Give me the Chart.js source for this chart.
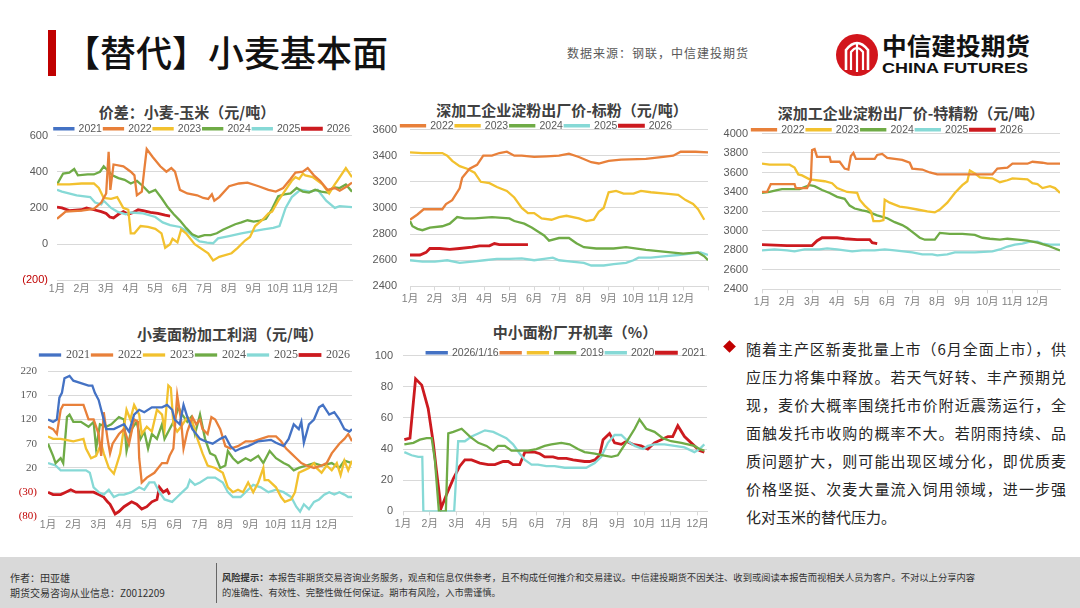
<!DOCTYPE html>
<html lang="zh">
<head>
<meta charset="utf-8">
<title>【替代】小麦基本面</title>
<script src="https://cdn.jsdelivr.net/npm/chart.js@4.4.1/dist/chart.umd.min.js"></script>
<style>
  body { margin:0; width:1080px; height:608px; position:relative; overflow:hidden; background:#fff;
         font-family:"Noto Sans CJK SC","Noto Sans",sans-serif; color:#262626; }
  .abs { position:absolute; white-space:nowrap; }
  .ttl { position:absolute; font-size:15px; line-height:20px; font-weight:700; color:#404040; white-space:nowrap; transform:translateX(-50%); }
  canvas { position:absolute; }
  .para { position:absolute; left:746px; top:335px; width:320px; font-size:15px; color:#262626; }
  .para div { height:28px; line-height:28px; text-align:justify; text-align-last:justify; white-space:nowrap; }
  .para div.last { text-align-last:left; }
  .foot { position:absolute; left:0; top:557px; width:1080px; height:51px; background:#d9d9d9; }
</style>
</head>
<body>

<!-- header -->
<div class="abs" style="left:48px;top:30px;width:8px;height:46px;background:#c00000"></div>
<div class="abs" style="left:64px;top:26px;font-size:36px;line-height:50px;font-weight:500;color:#111">【替代】小麦基本面</div>
<div class="abs" style="left:567px;top:45px;font-size:12px;line-height:16px;color:#595959;letter-spacing:1px">数据来源：钢联，中信建投期货</div>
<svg class="abs" style="left:834px;top:30px" width="200" height="50">
  <circle cx="23" cy="25" r="21" fill="#d2151c"/>
  <path d="M12 40 V20 Q23 6 34 20 V40" fill="none" stroke="#fff" stroke-width="2.6"/>
  <path d="M17 40 V22 Q23 14 29 22 V40" fill="none" stroke="#fff" stroke-width="2.2"/>
  <path d="M23 12 V42" stroke="#fff" stroke-width="2.2"/>
  <text x="48" y="25" font-size="24" font-weight="700" fill="#111" textLength="148" lengthAdjust="spacingAndGlyphs" font-family="Noto Sans CJK SC">中信建投期货</text>
  <text x="48" y="43" font-size="15" font-weight="700" fill="#111" textLength="146" lengthAdjust="spacingAndGlyphs" font-family="Liberation Sans">CHINA FUTURES</text>
</svg>

<!-- chart titles -->
<div class="ttl" style="left:187px;top:102px">价差：小麦-玉米（元/吨）</div>
<div class="ttl" style="left:562px;top:100px">深加工企业淀粉出厂价-标粉（元/吨）</div>
<div class="ttl" style="left:911px;top:103px">深加工企业淀粉出厂价-特精粉（元/吨）</div>
<div class="ttl" style="left:230px;top:324px">小麦面粉加工利润（元/吨）</div>
<div class="ttl" style="left:575px;top:322px">中小面粉厂开机率（%）</div>

<canvas id="c1" width="360" height="184" style="left:0;top:113px"></canvas>
<canvas id="c2" width="350" height="200" style="left:365px;top:107px"></canvas>
<canvas id="c3" width="365" height="199" style="left:715px;top:111px"></canvas>
<canvas id="c4" width="360" height="187" style="left:0;top:347px"></canvas>
<canvas id="c5" width="350" height="199" style="left:365px;top:333px"></canvas>

<!-- commentary -->
<div class="abs" style="left:725px;top:342px;width:9px;height:9px;background:#c00000;transform:rotate(45deg)"></div>
<div class="para">
  <div>随着主产区新麦批量上市（6月全面上市），供</div>
  <div>应压力将集中释放。若天气好转、丰产预期兑</div>
  <div>现，麦价大概率围绕托市价附近震荡运行，全</div>
  <div>面触发托市收购的概率不大。若阴雨持续、品</div>
  <div>质问题扩大，则可能出现区域分化，即优质麦</div>
  <div>价格坚挺、次麦大量流入饲用领域，进一步强</div>
  <div class="last">化对玉米的替代压力。</div>
</div>

<!-- footer -->
<div class="foot"></div>
<div class="abs" style="left:10px;top:570px;font-size:10px;line-height:15px;color:#333">作者：田亚雄<br>期货交易咨询从业信息：Z0012209</div>
<div class="abs" style="left:216px;top:563px;width:1px;height:40px;background:#666"></div>
<div class="abs" style="left:222px;top:570px;font-size:9.3px;line-height:15px;color:#333"><b>风险提示：</b>本报告非期货交易咨询业务服务，观点和信息仅供参考，且不构成任何推介和交易建议。中信建投期货不因关注、收到或阅读本报告而视相关人员为客户。不对以上分享内容<br>的准确性、有效性、完整性做任何保证。期市有风险，入市需谨慎。</div>

<script>
// ---- data (x = month offset from 1月 start, y = value) ----
const months = ['1月','2月','3月','4月','5月','6月','7月','8月','9月','10月','11月','12月'];

// 价差：小麦-玉米
const spread2022 = [[0,140],[0.35,180],[1.0,185],[1.5,195],[1.8,230],[2.0,280],[2.1,510],[2.17,300],[2.3,440],[2.7,430],[3.0,400],[3.15,380],[3.25,270],[3.45,290],[3.55,410],[3.65,525],[3.9,480],[4.2,430],[4.45,400],[4.65,420],[4.8,400],[5.0,300],[5.3,280],[5.7,270],[5.95,255],[6.15,250],[6.3,275],[6.4,240],[6.6,260],[7.0,320],[7.4,335],[7.75,340],[8.2,320],[8.6,300],[8.9,290],[9.2,310],[9.5,360],[9.7,395],[10.0,400],[10.2,420],[10.45,380],[10.7,350],[11.0,300],[11.3,310],[11.5,295],[11.8,320],[12.0,340]];
const spread2023 = [[0,330],[0.5,330],[1.0,335],[1.5,335],[1.7,310],[1.9,255],[2.2,250],[2.45,260],[2.7,200],[2.9,190],[3.0,60],[3.15,60],[3.4,100],[3.7,95],[4.0,85],[4.25,60],[4.4,-20],[4.6,0],[4.7,30],[4.9,10],[5.05,80],[5.25,60],[5.6,0],[6.15,-50],[6.35,-90],[6.6,-70],[7.1,-50],[7.35,-20],[7.65,20],[7.85,40],[8.06,100],[8.4,140],[8.6,170],[8.75,180],[9.0,240],[9.3,300],[9.55,350],[9.7,370],[9.85,360],[10.0,390],[10.1,380],[10.4,370],[10.8,330],[11.07,280],[11.3,330],[11.4,350],[11.75,420],[11.95,380],[12.0,370]];
const spread2024 = [[0,330],[0.25,390],[0.5,395],[0.7,415],[0.85,380],[1.25,385],[1.5,385],[1.75,400],[1.9,430],[2.25,380],[2.5,365],[2.75,355],[3.0,335],[3.25,350],[3.5,320],[3.75,285],[4.0,300],[4.25,255],[4.5,205],[4.75,165],[5.0,130],[5.25,90],[5.5,55],[5.75,40],[6.0,50],[6.25,50],[6.5,60],[6.75,80],[7.0,95],[7.25,110],[7.5,120],[7.75,132],[8.0,125],[8.25,130],[8.5,140],[8.75,195],[9.0,265],[9.25,275],[9.5,280],[9.75,310],[10.0,290],[10.25,285],[10.5,300],[10.75,290],[11.0,285],[11.25,315],[11.5,310],[11.75,330],[12.0,290]];
const spread2025 = [[0,300],[0.2,290],[0.8,270],[1.35,260],[1.55,230],[1.8,220],[1.9,240],[2.2,200],[2.45,180],[2.8,165],[3.0,175],[3.5,170],[4.0,150],[4.3,120],[4.6,105],[5.0,95],[5.3,70],[5.6,35],[5.8,15],[6.1,8],[6.35,5],[6.55,32],[7.0,45],[7.5,60],[8.0,72],[8.4,82],[8.8,90],[9.05,100],[9.3,200],[9.55,260],[9.9,300],[10.3,290],[10.6,300],[10.95,240],[11.3,200],[11.5,210],[12.0,205]];
const spread2026 = [[0,205],[0.2,200],[0.5,185],[1.0,190],[1.2,200],[1.5,190],[1.8,180],[2.0,170],[2.15,150],[2.3,145],[2.5,165],[2.7,180],[2.9,165],[3.1,175],[3.3,190],[3.5,185],[3.8,175],[4.1,170],[4.4,160],[4.6,155]];

// 淀粉出厂价-标粉
const std2022 = [[0,2910],[0.3,2950],[0.55,2990],[1.3,2990],[1.45,3030],[1.7,3060],[2.0,3150],[2.1,3230],[2.4,3300],[2.7,3330],[2.95,3400],[3.3,3400],[3.6,3420],[3.9,3430],[4.2,3400],[4.5,3400],[5.0,3390],[5.5,3395],[6.0,3400],[6.4,3415],[6.8,3390],[7.3,3350],[7.6,3340],[8.0,3360],[8.5,3370],[9.5,3375],[10.2,3390],[10.6,3400],[10.9,3430],[11.5,3430],[12.0,3425]];
const std2023 = [[0,3425],[0.5,3420],[1.3,3420],[1.5,3400],[1.7,3360],[2.0,3320],[2.3,3300],[2.6,3270],[2.85,3200],[3.2,3190],[3.5,3160],[3.9,3130],[4.2,3080],[4.5,3000],[4.75,2960],[5.0,2960],[5.3,2920],[5.7,2910],[6.0,2930],[6.3,2940],[6.8,2920],[7.1,2900],[7.4,2910],[7.6,2970],[7.8,3000],[8.0,3120],[8.3,3130],[8.6,3110],[9.0,3110],[9.3,3130],[9.7,3120],[10.3,3110],[10.8,3100],[11.1,3060],[11.4,3030],[11.6,2990],[11.85,2910]];
const std2024 = [[0,2900],[0.1,2860],[0.3,2840],[0.5,2830],[0.8,2850],[1.3,2860],[1.6,2880],[1.9,2930],[2.2,2920],[2.6,2920],[3.3,2930],[4.0,2920],[4.2,2900],[4.6,2880],[4.9,2850],[5.15,2820],[5.4,2790],[5.6,2750],[6.0,2770],[6.4,2770],[6.7,2730],[7.0,2700],[7.5,2690],[8.2,2690],[8.7,2700],[9.5,2680],[10.0,2670],[10.5,2660],[11.0,2650],[11.6,2660],[11.85,2630],[12.0,2600]];
const std2025 = [[0,2600],[0.5,2590],[1.0,2590],[1.5,2600],[2.0,2580],[2.5,2590],[3.0,2600],[3.5,2610],[4.0,2610],[4.5,2615],[5.0,2600],[5.4,2610],[5.75,2620],[6.0,2600],[6.5,2590],[7.0,2580],[7.3,2560],[7.8,2560],[8.2,2570],[8.7,2580],[9.0,2600],[9.2,2620],[9.7,2620],[10.2,2630],[10.8,2640],[11.3,2650],[11.7,2660],[12.0,2640]];
const std2026 = [[0,2640],[0.4,2640],[0.65,2660],[0.8,2690],[1.2,2690],[1.6,2683],[2.0,2690],[2.5,2700],[2.8,2710],[3.2,2710],[3.4,2728],[3.6,2720],[4.2,2720],[4.75,2720]];

// 淀粉出厂价-特精粉
const fine2022 = [[0,3400],[0.2,3400],[0.35,3480],[1.3,3480],[1.35,3440],[1.8,3440],[1.95,3520],[2.0,3830],[2.1,3840],[2.2,3760],[2.7,3760],[2.75,3710],[3.1,3710],[3.3,3640],[3.45,3630],[3.55,3770],[3.65,3800],[3.75,3740],[4.5,3740],[4.6,3780],[4.8,3790],[5.0,3750],[5.6,3730],[5.9,3700],[6.0,3640],[6.4,3630],[6.7,3600],[7.0,3580],[8.0,3580],[9.0,3580],[9.2,3580],[9.4,3640],[9.8,3650],[10.0,3690],[10.6,3690],[10.8,3710],[11.2,3700],[11.4,3690],[11.9,3690]];
const fine2023 = [[0,3690],[0.3,3680],[1.1,3680],[1.3,3650],[1.45,3580],[1.6,3570],[1.9,3530],[2.5,3510],[2.8,3490],[3.0,3440],[3.4,3400],[3.8,3390],[3.9,3320],[4.1,3260],[4.35,3200],[4.45,3100],[4.7,3100],[4.85,3110],[4.9,3320],[5.1,3290],[5.5,3250],[5.8,3240],[6.2,3220],[6.6,3200],[6.9,3190],[7.1,3220],[7.4,3290],[7.7,3390],[8.0,3470],[8.2,3510],[8.3,3620],[8.5,3590],[8.7,3550],[9.2,3540],[9.5,3500],[9.8,3520],[10.0,3540],[10.6,3530],[10.8,3490],[11.0,3480],[11.2,3440],[11.5,3460],[11.7,3440],[11.9,3390]];
const fine2024 = [[0,3390],[0.3,3400],[0.6,3420],[0.8,3430],[1.5,3430],[1.7,3450],[1.9,3470],[2.1,3460],[2.4,3420],[2.7,3390],[3.0,3350],[3.3,3330],[3.5,3260],[3.7,3230],[4.0,3210],[4.2,3200],[4.4,3180],[4.6,3160],[5.0,3130],[5.3,3090],[5.6,3060],[5.8,3030],[6.0,2990],[6.3,2930],[6.5,2910],[6.9,2910],[7.1,2980],[7.5,2970],[8.0,2970],[8.5,2960],[8.8,2930],[9.1,2920],[9.5,2910],[9.8,2920],[10.2,2910],[10.6,2900],[11.0,2880],[11.4,2850],[11.7,2820],[11.9,2800]];
const fine2025 = [[0,2800],[0.5,2810],[1.0,2800],[1.3,2790],[1.7,2810],[2.3,2810],[2.6,2820],[3.0,2810],[3.3,2800],[3.6,2790],[4.0,2800],[4.5,2800],[4.9,2810],[5.3,2800],[6.0,2780],[6.4,2760],[6.8,2760],[7.0,2750],[7.4,2760],[7.7,2780],[8.5,2780],[9.2,2790],[9.5,2810],[9.8,2840],[10.1,2860],[10.4,2870],[10.7,2890],[11.0,2890],[11.2,2870],[11.5,2860],[11.9,2860]];
const fine2026 = [[0,2860],[1.0,2850],[2.0,2850],[2.2,2900],[2.4,2930],[3.0,2930],[3.3,2920],[3.8,2910],[4.3,2910],[4.4,2880],[4.6,2870]];

// 小麦面粉加工利润
const profit2021 = [[0,120],[0.2,115],[0.35,120],[0.45,165],[0.55,175],[0.65,205],[0.85,210],[1.0,200],[1.3,195],[1.6,190],[1.75,190],[1.85,175],[2.0,160],[2.15,130],[2.3,100],[2.6,100],[3.0,110],[3.2,95],[3.4,130],[3.6,140],[3.8,135],[4.1,145],[4.5,145],[4.7,150],[4.9,140],[5.0,120],[5.2,110],[5.35,150],[5.5,125],[5.7,100],[6.0,80],[6.2,75],[6.5,70],[6.8,80],[7.0,85],[7.2,65],[7.4,55],[7.6,60],[7.9,65],[8.1,70],[8.3,75],[8.8,78],[9.0,72],[9.3,65],[9.5,80],[9.7,110],[9.9,100],[10.0,115],[10.1,72],[10.3,110],[10.5,120],[10.7,145],[10.85,150],[11.1,130],[11.3,135],[11.5,120],[11.7,100],[11.9,95],[12.0,100]];
const profit2022 = [[0,105],[0.2,100],[0.35,90],[0.5,140],[0.6,150],[1.4,150],[1.6,120],[1.8,120],[2.0,90],[2.1,45],[2.2,135],[2.35,80],[2.45,50],[2.55,70],[2.8,90],[3.0,100],[3.2,70],[3.4,120],[3.55,115],[3.6,40],[3.7,-10],[3.9,0],[4.2,10],[4.5,30],[4.7,30],[4.8,45],[4.95,60],[5.1,170],[5.25,120],[5.35,60],[5.5,95],[5.7,125],[5.85,110],[6.0,120],[6.1,100],[6.3,90],[6.45,125],[6.6,120],[6.8,100],[7.0,65],[7.2,60],[7.5,65],[7.8,75],[8.1,75],[8.4,80],[8.7,85],[9.0,85],[9.2,75],[9.4,60],[9.6,50],[9.8,40],[10.0,30],[10.2,25],[10.5,20],[10.8,25],[11.0,30],[11.2,50],[11.5,70],[11.7,80],[11.85,90],[12.0,75]];
const profit2023 = [[0,85],[0.2,80],[0.5,80],[1.0,75],[1.4,80],[1.5,60],[1.7,40],[1.9,45],[2.1,70],[2.2,50],[2.4,20],[2.6,8],[2.85,50],[3.1,140],[3.25,120],[3.4,150],[3.6,130],[3.7,90],[3.9,105],[4.1,95],[4.3,140],[4.5,130],[4.6,100],[4.75,190],[4.85,185],[4.95,110],[5.1,95],[5.25,105],[5.5,125],[5.7,115],[5.9,80],[6.1,50],[6.3,25],[6.6,20],[6.9,10],[7.1,-20],[7.3,-30],[7.5,-25],[7.7,-30],[7.9,-10],[8.1,-30],[8.3,-10],[8.5,20],[8.55,-5],[8.7,-5],[9.0,-20],[9.2,-40],[9.35,-50],[9.6,-45],[9.75,-30],[9.9,10],[10.1,15],[10.3,20],[10.5,30],[10.6,20],[10.8,10],[11.0,25],[11.2,15],[11.4,30],[11.55,5],[11.7,35],[11.85,15],[12.0,35]];
const profit2024 = [[0,70],[0.2,45],[0.3,30],[0.5,40],[0.6,30],[0.75,125],[0.85,130],[1.0,115],[1.3,115],[1.6,105],[1.8,115],[1.9,60],[2.05,110],[2.3,105],[2.5,110],[2.8,125],[3.0,120],[3.1,55],[3.3,100],[3.5,115],[3.65,80],[3.8,95],[3.95,60],[4.1,90],[4.3,80],[4.5,110],[4.6,80],[4.8,100],[5.0,120],[5.15,145],[5.3,130],[5.5,115],[5.65,125],[5.8,90],[6.0,130],[6.2,80],[6.4,50],[6.6,45],[6.8,20],[7.0,25],[7.1,55],[7.3,40],[7.5,30],[7.8,40],[8.0,35],[8.3,45],[8.5,30],[8.75,55],[9.0,40],[9.3,30],[9.5,25],[9.7,15],[9.9,20],[10.2,25],[10.5,30],[10.8,25],[11.2,30],[11.5,20],[11.7,35],[12.0,30]];
const profit2025 = [[0,30],[0.3,25],[0.5,15],[1.0,15],[1.5,15],[1.65,10],[1.8,-20],[2.0,-30],[2.2,-35],[2.4,-25],[2.6,-40],[2.8,-35],[3.0,-35],[3.3,-30],[3.6,-20],[3.8,-25],[4.0,-10],[4.2,-10],[4.4,-30],[4.6,-45],[4.9,-50],[5.1,-40],[5.3,-30],[5.5,-20],[5.6,-5],[5.8,-15],[6.0,-10],[6.3,0],[6.6,0],[6.9,-10],[7.1,-30],[7.3,-40],[7.6,-40],[7.9,-25],[8.1,-15],[8.4,-20],[8.7,-30],[9.0,-25],[9.3,-30],[9.6,-40],[9.8,-60],[9.95,-70],[10.1,-55],[10.3,-65],[10.5,-50],[10.7,-45],[10.9,-35],[11.1,-30],[11.3,-35],[11.5,-30],[11.7,-35],[11.85,-40],[12.0,-40]];
const profit2026 = [[0,-30],[0.2,-35],[0.5,-35],[0.7,-30],[0.9,-25],[1.1,-30],[1.4,-30],[1.8,-30],[2.0,-35],[2.2,-40],[2.35,-50],[2.45,-55],[2.55,-65],[2.65,-75],[2.8,-70],[3.0,-60],[3.3,-50],[3.5,-55],[3.7,-65],[3.9,-60],[4.1,-50],[4.3,-45],[4.4,-20],[4.55,-30],[4.7,-25],[4.8,-35]];

// 中小面粉厂开机率（%）
const run2019 = [[0.05,43],[0.39,44],[0.63,46],[0.88,47],[1.07,47],[1.19,33],[1.34,0],[1.6,0],[1.69,50],[1.88,51],[2.19,53],[2.5,48],[2.81,44],[3.12,42],[3.37,39],[3.55,42],[3.8,42],[4.05,39],[4.36,39],[4.67,39],[4.98,40],[5.29,42],[5.54,43],[5.91,44],[6.22,43],[6.53,40],[6.78,38],[7.16,37],[7.47,36],[7.78,35],[8.02,36],[8.4,46],[8.65,53],[8.83,59],[9.08,53],[9.39,51],[9.7,47],[10.01,45],[10.39,44],[10.88,42],[11.07,40],[11.25,39]];
const run2020 = [[0.05,38],[0.32,36],[0.57,35],[0.72,35],[0.76,0],[1.91,0],[2.06,45],[2.31,45],[2.56,48],[2.81,50],[3.06,52],[3.37,51],[3.61,49],[3.86,47],[4.11,43],[4.36,37],[4.55,33],[4.8,30],[5.04,30],[5.35,29],[5.66,29],[6.04,28],[6.53,28],[6.84,28],[7.16,31],[7.4,35],[7.65,44],[7.9,49],[8.15,49],[8.4,45],[8.65,42],[8.96,40],[9.14,42],[9.39,43],[9.76,43],[10.14,42],[10.51,41],[10.88,38],[11.07,40],[11.25,43]];
const run2021 = [[0.05,46],[0.26,47],[0.47,85],[0.7,81],[0.94,66],[1.13,44],[1.25,26],[1.42,2],[1.63,11],[1.88,21],[2.12,29],[2.31,33],[2.56,33],[2.87,31],[3.18,30],[3.43,30],[3.74,32],[3.93,32],[4.11,30],[4.36,30],[4.55,38],[4.92,38],[5.11,37],[5.29,35],[5.6,35],[5.79,34],[6.1,34],[6.35,33],[6.78,32],[6.97,32],[7.16,33],[7.34,36],[7.47,46],[7.71,50],[7.9,44],[8.15,43],[8.34,45],[8.58,43],[8.89,42],[9.14,40],[9.39,44],[9.64,46],[9.89,48],[10.07,48],[10.26,55],[10.51,48],[10.82,43],[11.07,39],[11.25,38]];

// ---- styling ----
const C = { blue:'#4472c4', orange:'#e8803a', yellow:'#f2c12e', green:'#6fab46', cyan:'#86d9d6', red:'#cc1a1f' };
const SANS = '"Liberation Sans","Noto Sans CJK SC",sans-serif';
const SERIF = '"Liberation Serif","Noto Sans CJK SC",serif';

function line(label, color, pts, w) {
  return { label, borderColor: color, backgroundColor: color, borderWidth: w || 2.3,
           pointRadius: 0, tension: 0, data: (pts || []).map(p => ({ x: p[0], y: p[1] })) };
}

// moves the legend row down onto the top gridline area, as in the source slide
const legendNudge = {
  id: 'legendNudge',
  afterLayout(chart, args, opts) {
    if (chart.legend && opts.dy) { chart.legend.top += opts.dy; chart.legend.bottom += opts.dy; }
  }
};

function makeChart(id, cfg) {
  new Chart(document.getElementById(id), {
    type: 'line',
    data: { datasets: cfg.datasets },
    plugins: [legendNudge],
    options: {
      responsive: false, animation: false,
      layout: { padding: { left: 0, right: cfg.padR, top: 0, bottom: 0 } },
      plugins: {
        legend: { align: cfg.legendAlign, labels: { boxWidth: cfg.boxW || 20, boxHeight: 1, padding: 2,
                  color: '#595959', font: { family: cfg.font, size: cfg.legendSize || 10.5 } } },
        legendNudge: { dy: cfg.legendDy },
        tooltip: { enabled: false }
      },
      scales: {
        x: { type: 'linear', min: 0, max: cfg.xMax,
             ticks: { stepSize: 1, includeBounds: false, autoSkip: false, maxRotation: 0, padding: 2, color: '#7f7f7f',
                      font: { family: SANS, size: 10.5 },
                      callback: v => (Number.isInteger(v) && v < 12) ? months[v] : '' },
             grid: { drawOnChartArea: false, color: '#d9d9d9', tickLength: cfg.xTick },
             border: { color: '#d9d9d9' } },
        y: { min: cfg.yMin, max: cfg.yMax,
             ticks: { stepSize: cfg.yStep, padding: cfg.yPad, font: { family: cfg.font, size: 11 },
                      color: c => (c.tick && c.tick.value < 0) ? '#c00000' : '#595959',
                      callback: v => v < 0 ? '(' + (-v) + ')' : v },
             grid: { color: '#d9d9d9', drawTicks: false },
             border: { display: false },
             afterFit: s => { s.width = cfg.axisW; } }
      }
    }
  });
}

makeChart('c1', {
  datasets: [line('2021', C.blue), line('2022', C.orange, spread2022), line('2023', C.yellow, spread2023),
             line('2024', C.green, spread2024), line('2025', C.cyan, spread2025), line('2026', C.red, spread2026, 2.8)],
  axisW: 57, padR: 8, xMax: 12, xTick: 0, yMin: -200, yMax: 600, yStep: 200, yPad: 9,
  legendAlign: 'end', legendDy: 8.5, font: SANS, boxW: 19
});
makeChart('c2', {
  datasets: [line('2022', C.orange, std2022), line('2023', C.yellow, std2023), line('2024', C.green, std2024),
             line('2025', C.cyan, std2025), line('2026', C.red, std2026, 2.8)],
  axisW: 45, padR: 7, xMax: 12, xTick: 4, yMin: 2400, yMax: 3600, yStep: 200, yPad: 13,
  legendAlign: 'center', legendDy: 11.5, font: SANS, boxW: 24
});
makeChart('c3', {
  datasets: [line('2022', C.orange, fine2022), line('2023', C.yellow, fine2023), line('2024', C.green, fine2024),
             line('2025', C.cyan, fine2025), line('2026', C.red, fine2026, 2.8)],
  axisW: 47, padR: 20, xMax: 11.9, xTick: 4, yMin: 2400, yMax: 4000, yStep: 200, yPad: 14,
  legendAlign: 'center', legendDy: 11.5, font: SANS, boxW: 24
});
makeChart('c4', {
  datasets: [line('2021', C.blue, profit2021), line('2022', C.orange, profit2022), line('2023', C.yellow, profit2023),
             line('2024', C.green, profit2024), line('2025', C.cyan, profit2025), line('2026', C.red, profit2026, 2.8)],
  axisW: 48, padR: 8, xMax: 12, xTick: 0, yMin: -80, yMax: 220, yStep: 50, yPad: 11,
  legendAlign: 'end', legendDy: 0, font: SERIF, legendSize: 12
});
makeChart('c5', {
  datasets: [line('2026/1/16', C.blue), line('', C.orange), line('', C.yellow),
             line('2019', C.green, run2019), line('2020', C.cyan, run2020), line('2021', C.red, run2021, 2.8)],
  axisW: 38, padR: 8, xMax: 11.35, xTick: 4, yMin: 0, yMax: 100, yStep: 20, yPad: 10,
  legendAlign: 'end', legendDy: 12.5, font: SANS
});
</script>
</body>
</html>
